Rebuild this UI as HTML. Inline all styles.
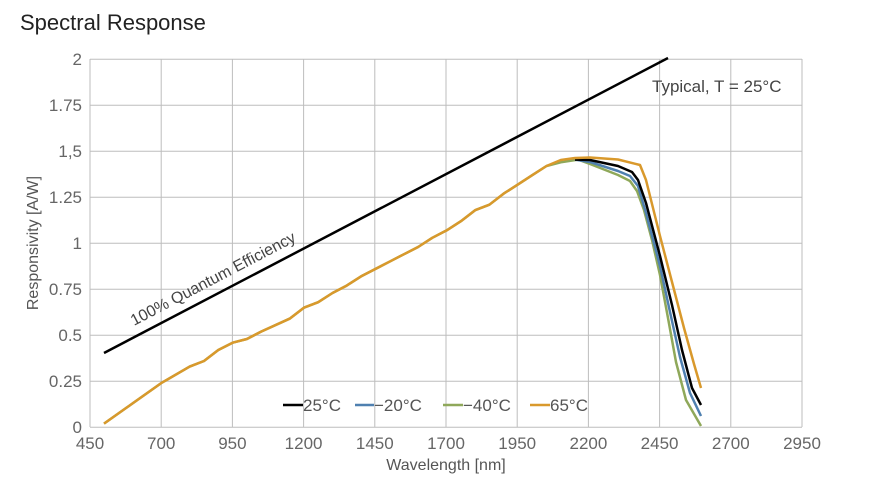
<!DOCTYPE html>
<html><head><style>
body{margin:0;background:#fff;}
svg{display:block;font-family:"Liberation Sans",sans-serif;}
</style></head><body>
<svg width="889" height="487" xmlns="http://www.w3.org/2000/svg">
<text x="20" y="30" font-size="22" fill="#222">Spectral Response</text>
<g stroke="#bdbdbd" stroke-width="1">
<line x1="90" y1="59.3" x2="802" y2="59.3"/><line x1="90" y1="105.3" x2="802" y2="105.3"/><line x1="90" y1="151.3" x2="802" y2="151.3"/><line x1="90" y1="197.3" x2="802" y2="197.3"/><line x1="90" y1="243.3" x2="802" y2="243.3"/><line x1="90" y1="289.3" x2="802" y2="289.3"/><line x1="90" y1="335.3" x2="802" y2="335.3"/><line x1="90" y1="381.3" x2="802" y2="381.3"/><line x1="90" y1="427.3" x2="802" y2="427.3"/>
<line x1="90" y1="59" x2="90" y2="427"/><line x1="161.2" y1="59" x2="161.2" y2="427"/><line x1="232.4" y1="59" x2="232.4" y2="427"/><line x1="303.6" y1="59" x2="303.6" y2="427"/><line x1="374.8" y1="59" x2="374.8" y2="427"/><line x1="446" y1="59" x2="446" y2="427"/><line x1="517.2" y1="59" x2="517.2" y2="427"/><line x1="588.4" y1="59" x2="588.4" y2="427"/><line x1="659.6" y1="59" x2="659.6" y2="427"/><line x1="730.8" y1="59" x2="730.8" y2="427"/><line x1="802" y1="59" x2="802" y2="427"/>
</g>
<g font-size="17" fill="#666" text-anchor="end">
<text x="82" y="65">2</text><text x="82" y="111">1.75</text><text x="82" y="157">1,5</text><text x="82" y="203">1.25</text><text x="82" y="249">1</text><text x="82" y="295">0.75</text><text x="82" y="341">0.5</text><text x="82" y="387">0.25</text><text x="82" y="433">0</text>
</g>
<g font-size="17" fill="#666" text-anchor="middle">
<text x="90" y="449">450</text><text x="161.2" y="449">700</text><text x="232.4" y="449">950</text><text x="303.6" y="449">1200</text><text x="374.8" y="449">1450</text><text x="446" y="449">1700</text><text x="517.2" y="449">1950</text><text x="588.4" y="449">2200</text><text x="659.6" y="449">2450</text><text x="730.8" y="449">2700</text><text x="802" y="449">2950</text>
</g>
<text x="446" y="470" font-size="16" fill="#555" text-anchor="middle">Wavelength [nm]</text>
<text transform="translate(38,243) rotate(-90)" font-size="16" fill="#555" text-anchor="middle">Responsivity [A/W]</text>
<text x="652" y="92" font-size="17" fill="#444">Typical, T = 25°C</text>
<line x1="104" y1="353" x2="668" y2="58" stroke="#000" stroke-width="2.5"/>
<text transform="translate(134,326) rotate(-27.6)" font-size="16" fill="#444">100% Quantum Efficiency</text>
<g fill="none" stroke-width="2.5" stroke-linejoin="round">
<polyline stroke="#8fa85a" points="104,423.6 132.6,403.4 161.2,383.1 189.7,366.6 204,361 218.3,350 232.6,342.7 246.9,339 261.1,331.6 289.6,318.7 303.9,307.7 318.2,302.2 332.5,293 346.7,285.6 361,276.4 389.5,261.7 403.8,254.3 418.1,247 432.3,237.8 446.6,230.4 460.9,221.2 475.1,210.2 489.4,204.7 503.7,193.6 518,184.4 532.2,175.2 546.5,166 560.8,162.3 578,159.6 590,164 618,175 630,181 637,191 644,210 652,240 660,275 668,318 676,362 686,400 701,426"/>
<polyline stroke="#4f80b0" points="575,159.6 590,162 618,171 630,176 638,186 646,213 660,266 670,312 680,357 690,393 701,416"/>
<polyline stroke="#000" points="575,159.6 590,160 618,166 632,172 638,180 646,203 660,256 672,305 682,350 692,388 701,405"/>
<polyline stroke="#d9992c" points="104,423.6 132.6,403.4 161.2,383.1 189.7,366.6 204,361 218.3,350 232.6,342.7 246.9,339 261.1,331.6 289.6,318.7 303.9,307.7 318.2,302.2 332.5,293 346.7,285.6 361,276.4 389.5,261.7 403.8,254.3 418.1,247 432.3,237.8 446.6,230.4 460.9,221.2 475.1,210.2 489.4,204.7 503.7,193.6 518,184.4 532.2,175.2 546.5,166 560.8,160 575,158 590,157.5 618,159.5 640,165 646,180 660,236 672,282 684,328 694,364 701,388"/>
</g>
<g font-size="17" fill="#555">
<line x1="283" y1="405" x2="303" y2="405" stroke="#000" stroke-width="2.5"/><text x="303" y="411">25°C</text>
<line x1="355" y1="405" x2="374" y2="405" stroke="#4f80b0" stroke-width="2.5"/><text x="374" y="411">−20°C</text>
<line x1="443" y1="405" x2="463" y2="405" stroke="#8fa85a" stroke-width="2.5"/><text x="463" y="411">−40°C</text>
<line x1="530" y1="405" x2="550" y2="405" stroke="#d9992c" stroke-width="2.5"/><text x="550" y="411">65°C</text>
</g>
</svg>
</body></html>
